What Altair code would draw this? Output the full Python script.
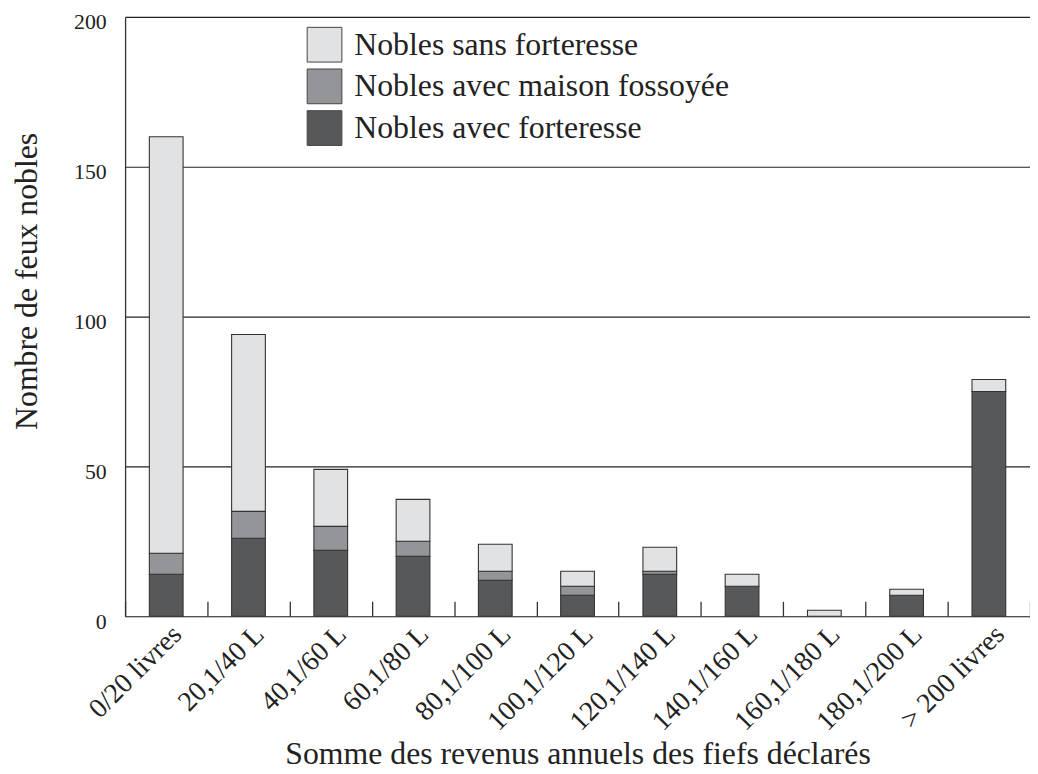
import altair as alt
import pandas as pd

categories = ["0/20 livres", "20,1/40 L", "40,1/60 L", "60,1/80 L", "80,1/100 L",
              "100,1/120 L", "120,1/140 L", "140,1/160 L", "160,1/180 L",
              "180,1/200 L", "> 200 livres"]
avec_forteresse = [14, 26, 22, 20, 12, 7, 14, 10, 0, 7, 75]
maison_fossoyee = [7, 9, 8, 5, 3, 3, 1, 0, 0, 0, 0]
sans_forteresse = [139, 59, 19, 14, 9, 5, 8, 4, 2, 2, 4]

series_names = ["Nobles sans forteresse", "Nobles avec maison fossoyée", "Nobles avec forteresse"]
series_colors = ["#e1e2e4", "#949598", "#57585a"]
stack_order = {"Nobles avec forteresse": 0, "Nobles avec maison fossoyée": 1, "Nobles sans forteresse": 2}

rows = []
for i, c in enumerate(categories):
    for name, vals in [("Nobles avec forteresse", avec_forteresse),
                       ("Nobles avec maison fossoyée", maison_fossoyee),
                       ("Nobles sans forteresse", sans_forteresse)]:
        if vals[i] > 0:
            rows.append({"cat": c, "serie": name, "n": vals[i], "ordre": stack_order[name]})
df = pd.DataFrame(rows)

FONT = "Liberation Serif"

chart = alt.Chart(df).mark_bar(stroke="#333333", strokeWidth=1.1,
                               width=alt.RelativeBandSize(0.41)).encode(
    x=alt.X("cat:N", sort=categories,
            scale=alt.Scale(paddingInner=0, paddingOuter=0),
            axis=alt.Axis(title="Somme des revenus annuels des fiefs déclarés",
                          labelAngle=-45, labelAlign="right", labelBaseline="top",
                          labelFontSize=28, labelFont=FONT, labelColor="#222222",
                          labelPadding=4, labelOffset=1,
                          tickBand="extent", ticks=True, tickSize=15, tickColor="#333333",
                          tickWidth=1.3, offset=-15, domain=False, grid=False,
                          titleFont=FONT, titleFontSize=32, titleFontWeight="normal",
                          titleColor="#222222", titleY=163, titleBaseline="alphabetic")),
    y=alt.Y("n:Q", stack="zero",
            scale=alt.Scale(domain=[0, 200], nice=False),
            axis=alt.Axis(title="Nombre de feux nobles", values=[0, 50, 100, 150, 200],
                          labelFont=FONT, labelFontSize=22, labelColor="#222222",
                          labelPadding=19, labelOffset=5, labelBaseline="middle",
                          ticks=False, domain=True, domainColor="#333333", domainWidth=1.3,
                          grid=True, gridColor="#222222", gridWidth=1.2, gridOpacity=1,
                          titleFont=FONT, titleFontSize=32, titleFontWeight="normal",
                          titleColor="#222222", titleAngle=270, titleX=-99, titleY=266,
                          titleAlign="center", titleBaseline="middle")),
    color=alt.Color("serie:N",
                    scale=alt.Scale(domain=series_names, range=series_colors),
                    legend=alt.Legend(title=None, orient="none", legendX=183, legendY=10,
                                      symbolType="square", symbolSize=1225,
                                      symbolStrokeColor="#444444", symbolStrokeWidth=1,
                                      labelFont=FONT, labelFontSize=32, labelColor="#222222",
                                      labelOffset=12, rowPadding=2, padding=0,
                                      labelLimit=600)),
    order=alt.Order("ordre:Q"),
).properties(
    width=912, height=604,
    autosize=alt.AutoSizeParams(type="none"),
    padding={"left": 118, "top": 6, "right": 0, "bottom": 154},
).configure_view(stroke=None).configure(background="white")

chart.save("out.html", embed_options={"renderer": "svg", "actions": False})
